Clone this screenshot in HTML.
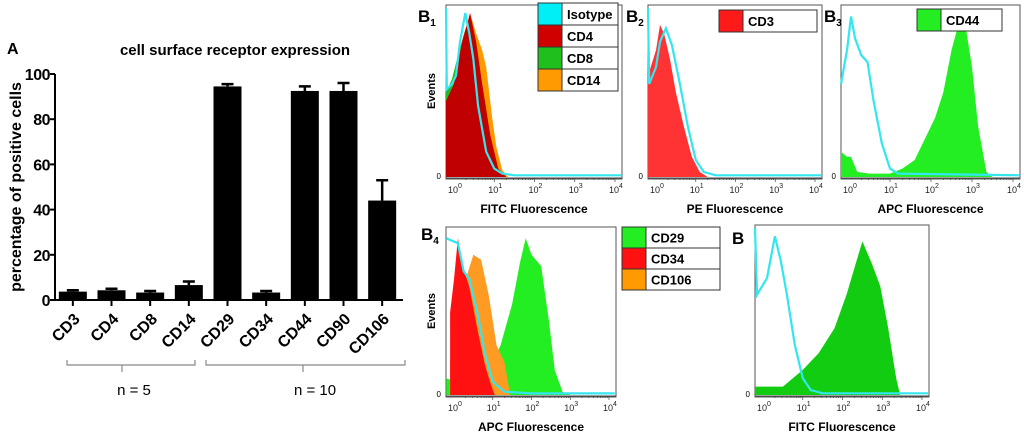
<!DOCTYPE html>
<html><head><meta charset="utf-8"><style>
html,body{margin:0;padding:0;background:#fff;width:1024px;height:432px;overflow:hidden}
svg{display:block;font-family:"Liberation Sans",Arial,sans-serif}
</style></head><body>
<svg id="fig" width="1024" height="432" viewBox="0 0 1024 432"></svg>
<script>
// ---- Bar chart data ----
const barCategories = ["CD3","CD4","CD8","CD14","CD29","CD34","CD44","CD90","CD106"];
const barValues = [3.7,4.3,3.3,6.6,94.5,3.3,92.5,92.5,44];
const barErrors = [0.6,0.7,0.7,1.6,1.0,0.7,2.0,3.5,9];
const yTicks = [0,20,40,60,80,100];

// ---- Histogram data: [log10 fluorescence, % of max events] ----
const b1Isotype = [[-0.2,100],[-0.18,52],[-0.05,55],[0.05,60],[0.15,80],[0.28,97],[0.38,85],[0.48,70],[0.6,42],[0.8,15],[1.0,5],[1.2,2],[1.5,1],[4.15,1]];
const b1CD8 = [[-0.2,50],[-0.05,58],[0.1,72],[0.25,85],[0.4,96],[0.55,80],[0.7,55],[0.9,25],[1.1,5],[1.3,0]];
const b1CD14 = [[-0.2,45],[0.05,55],[0.2,80],[0.4,97],[0.55,85],[0.7,75],[0.8,65],[0.95,35],[1.05,18],[1.2,4],[1.35,0]];
const b1CD4 = [[-0.2,45],[0,55],[0.2,80],[0.4,97],[0.55,80],[0.7,55],[0.9,25],[1.1,5],[1.3,0]];
const b2CD3 = [[-0.2,60],[0,75],[0.1,90],[0.2,85],[0.35,70],[0.5,50],[0.7,30],[0.9,12],[1.1,3],[1.3,0]];
const b2Isotype = [[-0.2,100],[-0.17,55],[0,65],[0.1,80],[0.25,88],[0.4,78],[0.6,55],[0.8,30],[1.0,10],[1.2,3],[1.5,1],[4.15,1]];
const b3CD44 = [[-0.2,15],[-0.05,12],[0.05,12],[0.2,3],[0.5,2],[1.0,2],[1.3,5],[1.6,10],[1.9,25],[2.1,35],[2.3,50],[2.5,75],[2.7,93],[2.85,88],[3.0,65],[3.15,30],[3.35,3],[3.5,0]];
const b3Isotype = [[-0.2,55],[-0.05,75],[0.05,95],[0.15,82],[0.3,72],[0.45,68],[0.6,45],[0.8,20],[1.0,5],[1.2,2],[4.15,1]];
const b4CD29 = [[-0.2,10],[0.1,8],[0.5,10],[0.9,15],[1.2,30],[1.5,55],[1.7,80],[1.85,95],[2.0,85],[2.25,78],[2.45,45],[2.6,15],[2.8,2],[3.0,0]];
const b4CD106 = [[-0.1,20],[0.1,50],[0.3,70],[0.5,85],[0.7,82],[0.9,60],[1.1,30],[1.3,20],[1.45,0]];
const b4CD34 = [[-0.1,50],[0,70],[0.1,95],[0.2,80],[0.4,65],[0.6,40],[0.8,18],[0.9,10],[1.0,3],[1.05,0]];
const b4Isotype = [[-0.2,95],[0.1,92],[0.25,75],[0.4,70],[0.6,50],[0.8,25],[1.0,8],[1.3,2],[2,1],[4.15,1]];
const b5Green = [[-0.2,5],[0.5,5],[1.0,15],[1.4,25],[1.8,40],[2.1,60],[2.35,80],[2.5,92],[2.75,78],[2.95,65],[3.15,40],[3.35,10],[3.45,0]];
const b5Isotype = [[-0.2,100],[-0.15,60],[0.1,70],[0.3,95],[0.45,80],[0.6,60],[0.8,30],[1.0,10],[1.2,3],[1.5,1],[4.15,1]];
const decadeLabels = ["0","1","2","3","4"];

const NS="http://www.w3.org/2000/svg";
const svg=document.getElementById('fig');
function mk(tag,attrs,parent,text){const e=document.createElementNS(NS,tag);for(const k in attrs)e.setAttribute(k,attrs[k]);if(text!==undefined)e.textContent=text;(parent||svg).appendChild(e);return e;}

// ---- Bar chart ----
const X0=55,X1=403,Y0=300,Y1=74;
const yS=v=>Y0-(v/100)*(Y0-Y1);
const band=(X1-X0)/barCategories.length;
const xC=i=>X0+band*(i+0.5)-1.5;
let t=mk('text',{x:7,y:54,'font-size':16,'font-weight':'bold'},svg,'A');

t=mk('text',{x:235,y:55,'font-size':15,'font-weight':'bold','text-anchor':'middle'},svg,'cell surface receptor expression');

t=mk('text',{x:0,y:0,'font-size':16,'font-weight':'bold','text-anchor':'middle',transform:'translate(21,187) rotate(-90)'},svg,'percentage of positive cells');

const yax=mk('g',{});

mk('line',{x1:X0,y1:Y1,x2:X0,y2:Y0,stroke:'#000','stroke-width':2},yax);
yTicks.forEach(v=>{mk('line',{x1:X0-5,y1:yS(v),x2:X0,y2:yS(v),stroke:'#000','stroke-width':2},yax);
 const l=mk('text',{x:X0-5,y:yS(v)+6,'font-size':16,'font-weight':'bold','text-anchor':'end','letter-spacing':'-0.5'},yax,String(v));
 });
const xax=mk('g',{});

mk('line',{x1:X0,y1:Y0,x2:X1,y2:Y0,stroke:'#000','stroke-width':2},xax);
barCategories.forEach((c,i)=>{
 const cx=xC(i),w=28;
 const r=mk('rect',{x:cx-w/2,y:yS(barValues[i]),width:w,height:Y0-yS(barValues[i]),fill:'#000'});
 
 const e=mk('path',{d:`M${cx} ${yS(barValues[i])}V${yS(barValues[i]+barErrors[i])}M${cx-6} ${yS(barValues[i]+barErrors[i])}H${cx+6}`,stroke:'#000','stroke-width':2.5,fill:'none'});
 
 mk('line',{x1:cx,y1:Y0,x2:cx,y2:Y0+6,stroke:'#000','stroke-width':2},xax);
 const l=mk('text',{x:0,y:0,'font-size':16,'font-weight':'bold','text-anchor':'end',transform:`translate(${cx+8},${Y0+20}) rotate(-45)`},xax,c);
 
});
function bracket(a,b,mid,label,name){
 const g=mk('g',{});
 mk('path',{d:`M${a} 360V365H${b}V360M${mid} 365V372`,stroke:'#888','stroke-width':1.2,fill:'none'},g);
 mk('text',{x:mid+12,y:395,'font-size':15,'text-anchor':'middle'},g,label);
}
bracket(67,195,122,'n = 5','bracket-n5');
bracket(206,405,303,'n = 10','bracket-n10');

// ---- Histograms ----
function panel(name,L,R,T,B,series,xlabel,showEvents){
 const g=mk('g',{});
 const dec=(R-L-15)/4;
 const xs=v=>Math.max(L,L+8+v*dec);
 const ys=v=>B-v/100*(B-T-3);
 mk('rect',{x:L,y:T,width:R-L,height:B-T+2,fill:'#fff',stroke:'#555','stroke-width':1},g);
 series.forEach(s=>{
  let d=s.data.map((p,i)=>(i?'L':'M')+xs(p[0]).toFixed(1)+' '+ys(p[1]).toFixed(1)).join('');
  let el;
  if(s.fill){d+=`L${xs(s.data[s.data.length-1][0])} ${B}L${xs(s.data[0][0])} ${B}Z`;el=mk('path',{d,fill:s.color},g);}
  else el=mk('path',{d,fill:'none',stroke:s.color,'stroke-width':2.2},g);
  
 });
 mk('line',{x1:L,y1:B+1,x2:R,y2:B+1,stroke:'#444','stroke-width':1},g);
 for(let dcd=0;dcd<4;dcd++)for(let k=2;k<=10;k++){const x=xs(dcd+Math.log10(k));mk('line',{x1:x,y1:B+1,x2:x,y2:B+(k==10?5:3),stroke:'#444','stroke-width':0.7},g);}
 mk('text',{x:L-5,y:B+2,'font-size':8,'text-anchor':'end'},g,'0');
 decadeLabels.forEach((lab,i)=>{const tx=mk('text',{x:xs(i)+1,y:B+16,'font-size':9,'text-anchor':'middle',fill:'#222'},g,'10');
  mk('tspan',{dy:-5,'font-size':7},tx,lab);});
 const xl=mk('text',{x:(L+R)/2,y:B+36,'font-size':12,'font-weight':'bold','text-anchor':'middle'},g,xlabel);
 
 if(showEvents){const ev=mk('text',{x:0,y:0,'font-size':11,'font-weight':'bold','text-anchor':'middle',transform:`translate(${L-11},${(T+B)/2}) rotate(-90)`},g,'Events');
  }
}
function legend(name,x,y,w,h,entries){
 const g=mk('g',{});
 entries.forEach((e,i)=>{
  const yy=y+i*h;
  const it=mk('g',{},g);
  mk('rect',{x,y:yy,width:w,height:h,fill:'#fff',stroke:'#333','stroke-width':1},it);
  mk('rect',{x,y:yy,width:24,height:h,fill:e[1],stroke:'#333','stroke-width':1},it);
  mk('text',{x:x+29,y:yy+h/2+5,'font-size':13,'font-weight':'bold'},it,e[0]);
 });
}
function plabel(x,y,sub){const tx=mk('text',{x,y,'font-size':17,'font-weight':'bold'},svg,'B');
 
 if(sub)mk('tspan',{dy:4,'font-size':10},tx,sub);}

panel('histogram-b1',446,622,5,177,[
 {data:b1CD8,color:'#22bb22',fill:1,name:'cd8-histogram'},
 {data:b1CD14,color:'#ff9900',fill:1,name:'cd14-histogram'},
 {data:b1CD4,color:'#c00000',fill:1,name:'cd4-histogram'},
 {data:b1Isotype,color:'#33e6f0',fill:0,name:'isotype-line'}],'FITC Fluorescence',true);
legend('legend-b1',538,3,80,22,[['Isotype','#00eef5'],['CD4','#d00000'],['CD8','#1ec01e'],['CD14','#ff9a00']]);
plabel(418,22,'1');

panel('histogram-b2',648,822,5,177,[
 {data:b2CD3,color:'#ff3333',fill:1,name:'cd3-histogram'},
 {data:b2Isotype,color:'#33e6f0',fill:0,name:'isotype-line'}],'PE Fluorescence',false);
legend('legend-b2',719,10,98,22,[['CD3','#ff1a1a']]);
plabel(626,22,'2');

panel('histogram-b3',841,1020,5,177,[
 {data:b3CD44,color:'#22ee22',fill:1,name:'cd44-histogram'},
 {data:b3Isotype,color:'#33e6f0',fill:0,name:'isotype-line'}],'APC Fluorescence',false);
legend('legend-b3',917,9,85,22,[['CD44','#22ee22']]);
plabel(824,22,'3');

panel('histogram-b4',446,616,227,395,[
 {data:b4CD29,color:'#22ee22',fill:1,name:'cd29-histogram'},
 {data:b4CD106,color:'#ff9a22',fill:1,name:'cd106-histogram'},
 {data:b4CD34,color:'#ff1111',fill:1,name:'cd34-histogram'},
 {data:b4Isotype,color:'#33e6f0',fill:0,name:'isotype-line'}],'APC Fluorescence',true);
legend('legend-b4',622,227,98,21,[['CD29','#22ee22'],['CD34','#ff1111'],['CD106','#ff9a00']]);
plabel(421,240,'4');

panel('histogram-b5',755,929,225,395,[
 {data:b5Green,color:'#11cc11',fill:1,name:'marker-histogram'},
 {data:b5Isotype,color:'#33e6f0',fill:0,name:'isotype-line'}],'FITC Fluorescence',false);
plabel(732,244,'');
</script>
</body></html>
